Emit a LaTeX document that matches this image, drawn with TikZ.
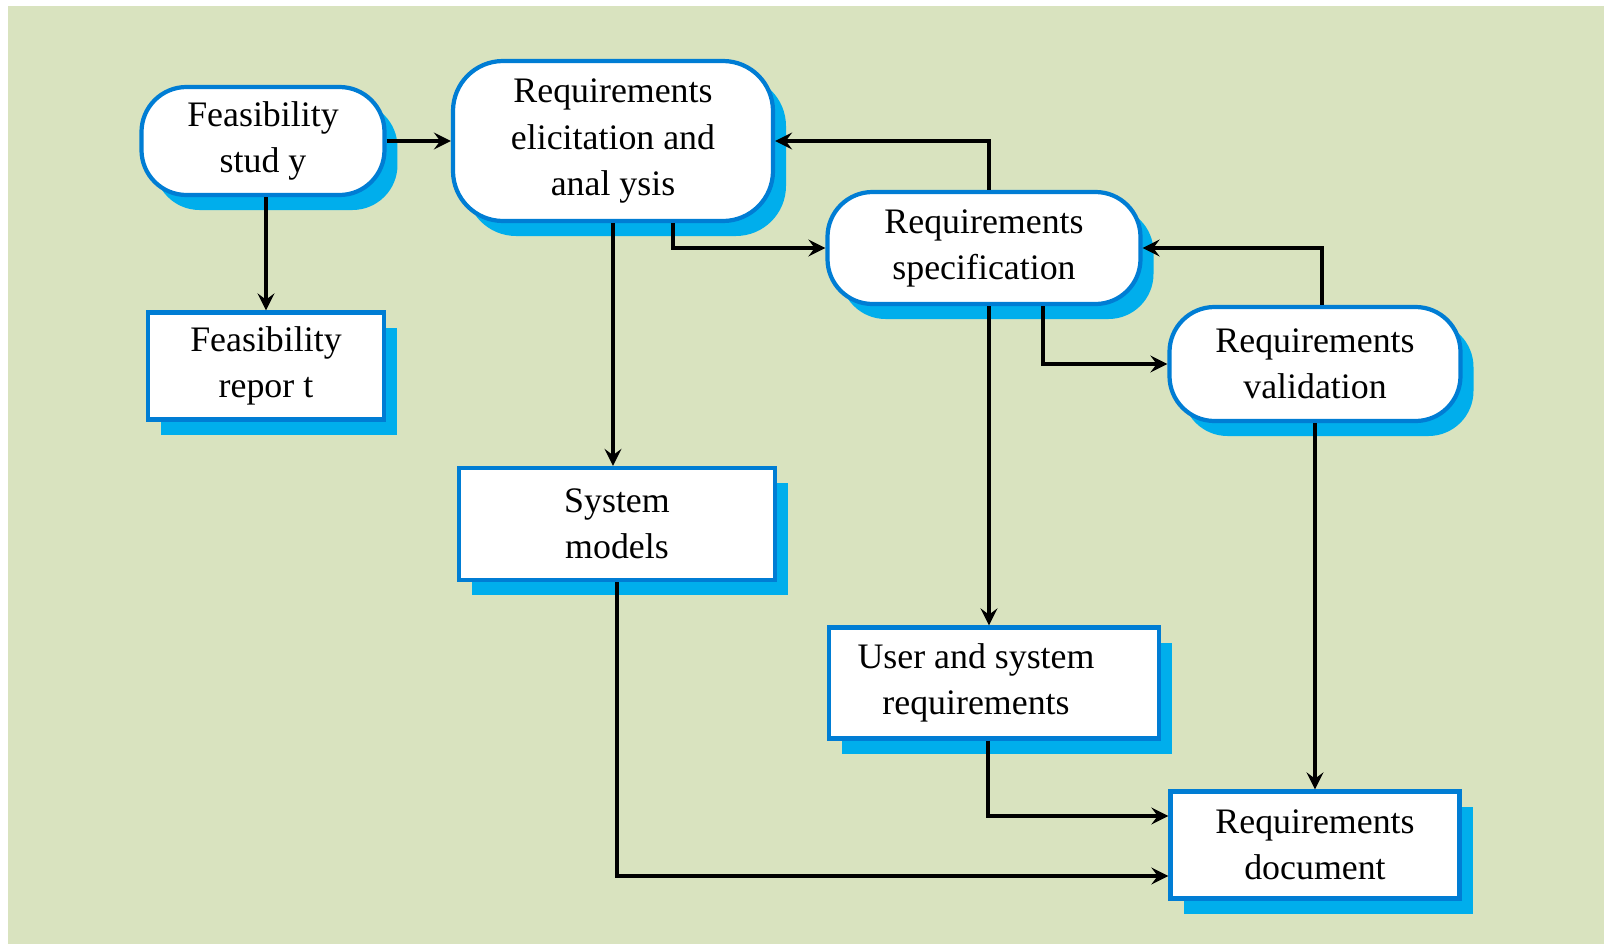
\documentclass[tikz,border=0pt]{standalone}
\usepackage{fontspec}
\setmainfont{Liberation Serif}
\usepackage{tikz}
\usetikzlibrary{shapes.geometric, arrows, shadows}
\definecolor{bggreen}{RGB}{217,227,191}
\definecolor{edgeblue}{RGB}{0,125,212}
\definecolor{shadeblue}{RGB}{0,174,236}
\tikzstyle{activity} = [rectangle, rounded corners=0.45cm, text centered, align=center, draw=edgeblue, line width=1.2pt, fill=white, drop shadow={shadow xshift=0.13cm, shadow yshift=-0.15cm, fill=shadeblue, opacity=1}, font=\fontsize{10.2pt}{13.1pt}\selectfont]
\tikzstyle{docbox} = [rectangle, text centered, align=center, draw=edgeblue, line width=1.2pt, fill=white, drop shadow={shadow xshift=0.13cm, shadow yshift=-0.15cm, fill=shadeblue, opacity=1}, font=\fontsize{10.2pt}{13.1pt}\selectfont]
\tikzstyle{arrow} = [line width=1.1pt,->,>=stealth]
\begin{document}
\begin{tikzpicture}[node distance=3.5cm]

\fill [bggreen] (-2.55,1.35) rectangle (13.41,-8.03);
\useasboundingbox (-2.63,1.41) rectangle (13.41,-8.03);

\node (fs) [activity, minimum width=2.43cm, minimum height=1.08cm] {Feasibility\\stud y};
\node (rea) [activity, right of=fs, rounded corners=0.5cm, minimum width=3.2cm, minimum height=1.6cm] {Requirements\\elicitation and\\anal ysis};
\node (rs) [activity, right of=rea, xshift=0.21cm, yshift=-1.07cm, minimum width=3.13cm, minimum height=1.12cm] {Requirements\\specification};
\node (rv) [activity, right of=rs, xshift=-0.19cm, yshift=-1.16cm, minimum width=2.91cm, minimum height=1.14cm] {Requirements\\validation};
\node (fr) [docbox, below of=fs, xshift=0.03cm, yshift=1.25cm, minimum width=2.36cm, minimum height=1.07cm] {Feasibility\\repor t};
\node (sm) [docbox, below of=rea, xshift=0.04cm, yshift=-0.33cm, minimum width=3.16cm, minimum height=1.12cm] {System\\models};
\node (usr) [docbox, below of=rs, xshift=0.1cm, yshift=-0.85cm, minimum width=3.3cm, minimum height=1.11cm] {User and system\hspace*{0.36cm}\\requirements\hspace*{0.36cm}};
\node (rd) [docbox, below of=rv, yshift=-1.31cm, minimum width=2.89cm, minimum height=1.07cm] {Requirements\\document};

\draw [arrow] (fs.east) -- (fs.east -| rea.west);
\draw [arrow] (fr.north |- fs.south) -- (fr.north);
\draw [arrow] (rea.south) -- (rea.south |- sm.north);
\draw [arrow] ([xshift=0.6cm]rea.south) |- (rs.west);
\draw [arrow] ([xshift=0.05cm]rs.north) |- (rea.east);
\draw [arrow] ([xshift=0.05cm]rs.south) -- ([xshift=0.05cm]rs.south |- usr.north);
\draw [arrow] ([xshift=0.59cm]rs.south) |- (rv.west);
\draw [arrow] ([xshift=0.07cm]rv.north) |- (rs.east);
\draw [arrow] (rv.south) -- (rv.south |- rd.north);
\draw [arrow] ([xshift=-0.06cm]usr.south) |- ([yshift=0.29cm]rd.west);
\draw [arrow] (sm.south) |- ([yshift=-0.31cm]rd.west);

\end{tikzpicture}
\end{document}
